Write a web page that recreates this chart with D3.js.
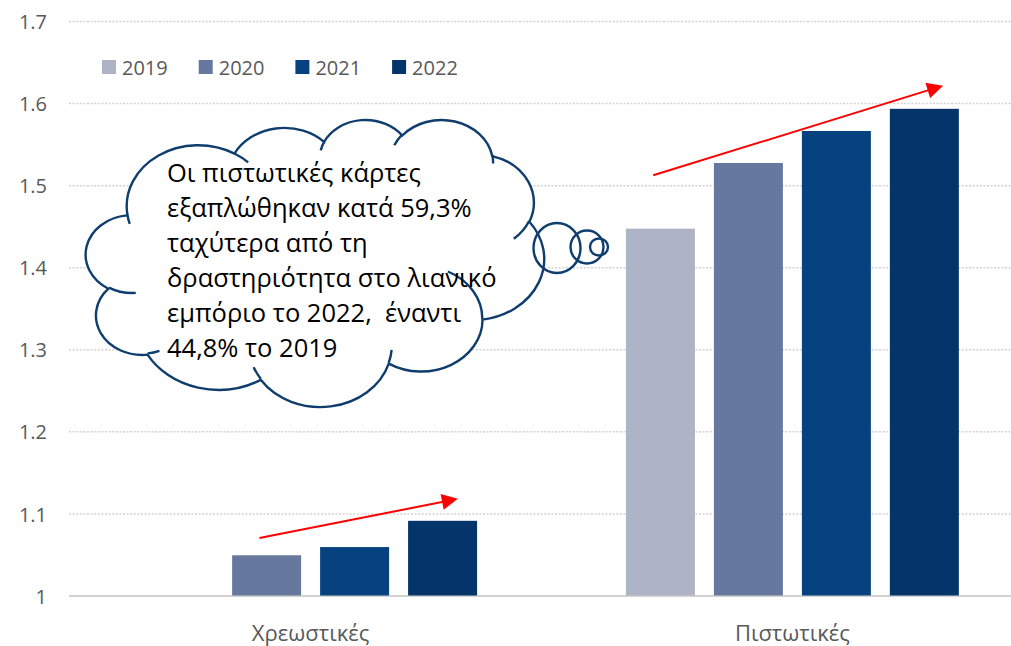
<!DOCTYPE html>
<html>
<head>
<meta charset="utf-8">
<script src="https://cdn.jsdelivr.net/npm/d3@7"></script>
<style>
  body { margin: 0; background: #fff; }
  svg { display: block; }
  text { font-family: "Open Sans", "Noto Sans", sans-serif; }
</style>
</head>
<body>
<div id="chart"></div>
<script>
// data
const categories = ["Χρεωστικές", "Πιστωτικές"];
const years = ["2019", "2020", "2021", "2022"];
const debitValues = [1.0, 1.049, 1.059, 1.091];
const creditValues = [1.447, 1.527, 1.566, 1.593];
const yTicks = [1, 1.1, 1.2, 1.3, 1.4, 1.5, 1.6, 1.7];
const yearColors = ["#aeb4c6", "#67789e", "#05427f", "#04356a"];
const calloutLines = [
  "Οι πιστωτικές κάρτες",
  "εξαπλώθηκαν κατά 59,3%",
  "ταχύτερα από τη",
  "δραστηριότητα στο λιανικό",
  "εμπόριο το 2022,  έναντι",
  "44,8% το 2019"
];
// trend arrows: position in year slots (0..4) and value
const trendArrows = [
  { category: "Χρεωστικές", from: [1.31, 1.070], to: [3.53, 1.117] },
  { category: "Πιστωτικές", from: [0.31, 1.512], to: [3.57, 1.620] }
];

const W = 1011, H = 646;
const plotLeft = 69, plotRight = 1034, plotTop = 21, plotBottom = 595.5;
const grey = "#595959";

const svg = d3.select("#chart").append("svg")
  .attr("width", W)
  .attr("height", H);

const x0 = d3.scaleBand().domain(categories).range([plotLeft, plotRight])
  .paddingInner(0.309).paddingOuter(0.156);
const x1 = d3.scaleBand().domain(years).range([0, x0.bandwidth()])
  .paddingInner(0.216);
const slot = d3.scaleLinear().domain([0, 4]).range([0, 4 * x1.step()]);
const y = d3.scaleLinear().domain([1, 1.7]).range([plotBottom, plotTop]);
const color = d3.scaleOrdinal().domain(years).range(yearColors);

// gridlines + y labels
const yAxis = svg.append("g")
  .attr("transform", `translate(${plotLeft},0)`)
  .call(d3.axisLeft(y).tickValues(yTicks)
    .tickFormat(d => d === 1 ? "1" : d3.format(".1f")(d))
    .tickSizeInner(-(W - plotLeft)).tickSizeOuter(0).tickPadding(22));
yAxis.select(".domain").remove();
yAxis.selectAll(".tick line")
  .attr("stroke", "#d2d2d2")
  .attr("stroke-width", d => d === 1 ? 2 : 1.5)
  .attr("stroke-dasharray", d => d === 1 ? null : "2,1.6");
yAxis.selectAll(".tick text")
  .attr("dy", "0.38em")
  .attr("fill", grey)
  .style("font-size", "20px");

// bars
const rows = [debitValues, creditValues];
const groups = svg.selectAll("g.cat").data(categories).enter().append("g")
  .attr("class", "cat")
  .attr("transform", d => `translate(${x0(d)},0)`);
groups.selectAll("rect")
  .data((d, i) => years.map((yr, j) => ({ year: yr, value: rows[i][j] })))
  .enter().append("rect")
  .attr("x", d => x1(d.year))
  .attr("width", x1.bandwidth())
  .attr("y", d => y(d.value))
  .attr("height", d => y(1) - y(d.value))
  .attr("fill", d => color(d.year));

// category labels
svg.selectAll("text.cat").data(categories).enter().append("text")
  .attr("class", "cat")
  .attr("x", d => x0(d) + x0.bandwidth() / 2)
  .attr("y", 641)
  .attr("text-anchor", "middle")
  .attr("fill", grey)
  .style("font-size", "22px")
  .text(d => d);

// legend
const legend = svg.append("g").attr("transform", "translate(102,60)");
const item = legend.selectAll("g").data(years).enter().append("g")
  .attr("transform", (d, i) => `translate(${i * 96.7},0)`);
item.append("rect").attr("width", 14).attr("height", 14).attr("fill", d => color(d));
item.append("text").attr("x", 20).attr("y", 15)
  .attr("fill", grey).style("font-size", "20px").text(d => d);

// red trend arrows
const defs = svg.append("defs");
defs.append("marker")
  .attr("id", "head")
  .attr("viewBox", "0 0 10 10")
  .attr("refX", 8).attr("refY", 5)
  .attr("markerWidth", 9).attr("markerHeight", 8)
  .attr("markerUnits", "strokeWidth")
  .attr("orient", "auto")
  .append("path").attr("d", "M0,0 L10,5 L0,10 Z").attr("fill", "#ff0000");
svg.selectAll("line.trend").data(trendArrows).enter().append("line")
  .attr("class", "trend")
  .attr("x1", d => x0(d.category) + slot(d.from[0]))
  .attr("y1", d => y(d.from[1]))
  .attr("x2", d => x0(d.category) + slot(d.to[0]))
  .attr("y2", d => y(d.to[1]))
  .attr("stroke", "#ff0000")
  .attr("stroke-width", 2)
  .attr("marker-end", "url(#head)");

// cloud callout (DrawingML cloud geometry, 43200 units)
const box = { x: 86, y: 119, w: 458, h: 287 };
const sx = box.w / 43200, sy = box.h / 43200;
const toRad = a => a / 60000 * Math.PI / 180;
const param = (a, wR, hR) => Math.atan2(wR * Math.sin(a), hR * Math.cos(a));

function cloudPath(segments) {
  let d = "", px = 0, py = 0;
  segments.forEach(s => {
    if (s[0] === "M") {
      px = s[1]; py = s[2];
      d += `M${box.x + px * sx},${box.y + py * sy}`;
    } else if (s[0] === "A") {
      const [, wR, hR, st, sw] = s;
      const a0 = toRad(st), a1 = toRad(st + sw);
      const t0 = param(a0, wR, hR), t1 = param(a1, wR, hR);
      const cx = px - wR * Math.cos(t0), cy = py - hR * Math.sin(t0);
      let dt = t1 - t0;
      if (sw > 0) while (dt < 0) dt += 2 * Math.PI;
      if (sw < 0) while (dt > 0) dt -= 2 * Math.PI;
      px = cx + wR * Math.cos(t1); py = cy + hR * Math.sin(t1);
      d += `A${wR * sx},${hR * sy} 0 ${Math.abs(dt) > Math.PI ? 1 : 0} ${sw > 0 ? 1 : 0} ${box.x + px * sx},${box.y + py * sy}`;
    } else {
      d += "Z";
    }
  });
  return d;
}

const outline = [
  ["M", 3900, 14370],
  ["A", 6753, 9190, -11429249, 7426832],
  ["A", 5333, 7267, -8646143, 5396714],
  ["A", 4365, 5945, -8748475, 5983381],
  ["A", 4857, 6595, -7859164, 7034504],
  ["A", 5333, 7273, -4722533, 6541615],
  ["A", 6775, 9220, -2776035, 7816140],
  ["A", 5785, 7867, 37501, 6842000],
  ["A", 6752, 9215, 1347096, 6910353],
  ["A", 7720, 10543, 3974558, 4542661],
  ["A", 4360, 5918, -16496525, 8804134],
  ["A", 4345, 5945, -14809710, 9151131],
  ["Z"]
];
const tails = [
  ["M", 4693, 26177], ["A", 4345, 5945, 5204520, 1585770],
  ["M", 6928, 34899], ["A", 4360, 5918, 4416628, 686848],
  ["M", 16478, 39090], ["A", 6752, 9215, 8257449, 844866],
  ["M", 28827, 34751], ["A", 6752, 9215, 387196, 959901],
  ["M", 34129, 22954], ["A", 5785, 7867, -4217541, 4255042],
  ["M", 41798, 15354], ["A", 5333, 7273, 1819082, 1665090],
  ["M", 38324, 5426], ["A", 4857, 6595, -824660, 891534],
  ["M", 29078, 3952], ["A", 4857, 6595, -8950887, 1091722],
  ["M", 22141, 4720], ["A", 4365, 5945, -9809656, 1061181],
  ["M", 14000, 5192], ["A", 6753, 9190, -4002417, 739161],
  ["M", 4127, 15789], ["A", 6753, 9190, 9459261, 711490]
];

const cloudStroke = "#0f3d6e";
const cloud = svg.append("g");
cloud.append("path").attr("d", cloudPath(outline))
  .attr("fill", "#fff").attr("stroke", cloudStroke).attr("stroke-width", 2.4);
cloud.append("path").attr("d", cloudPath(tails))
  .attr("fill", "none").attr("stroke", cloudStroke).attr("stroke-width", 2.4);

const bubbles = [
  { cx: 557, cy: 248, rx: 23.5, ry: 25 },
  { cx: 587, cy: 247, rx: 16.5, ry: 16.5 },
  { cx: 599, cy: 247, rx: 9, ry: 8.5 }
];
cloud.selectAll("ellipse").data(bubbles).enter().append("ellipse")
  .attr("cx", d => d.cx).attr("cy", d => d.cy)
  .attr("rx", d => d.rx).attr("ry", d => d.ry)
  .attr("fill", "none").attr("stroke", cloudStroke).attr("stroke-width", 2.4);

cloud.selectAll("text").data(calloutLines).enter().append("text")
  .attr("x", 167)
  .attr("y", (d, i) => 182 + i * 35)
  .attr("fill", "#000")
  .style("font-size", "25.5px")
  .style("white-space", "pre")
  .text(d => d);
</script>
</body>
</html>
